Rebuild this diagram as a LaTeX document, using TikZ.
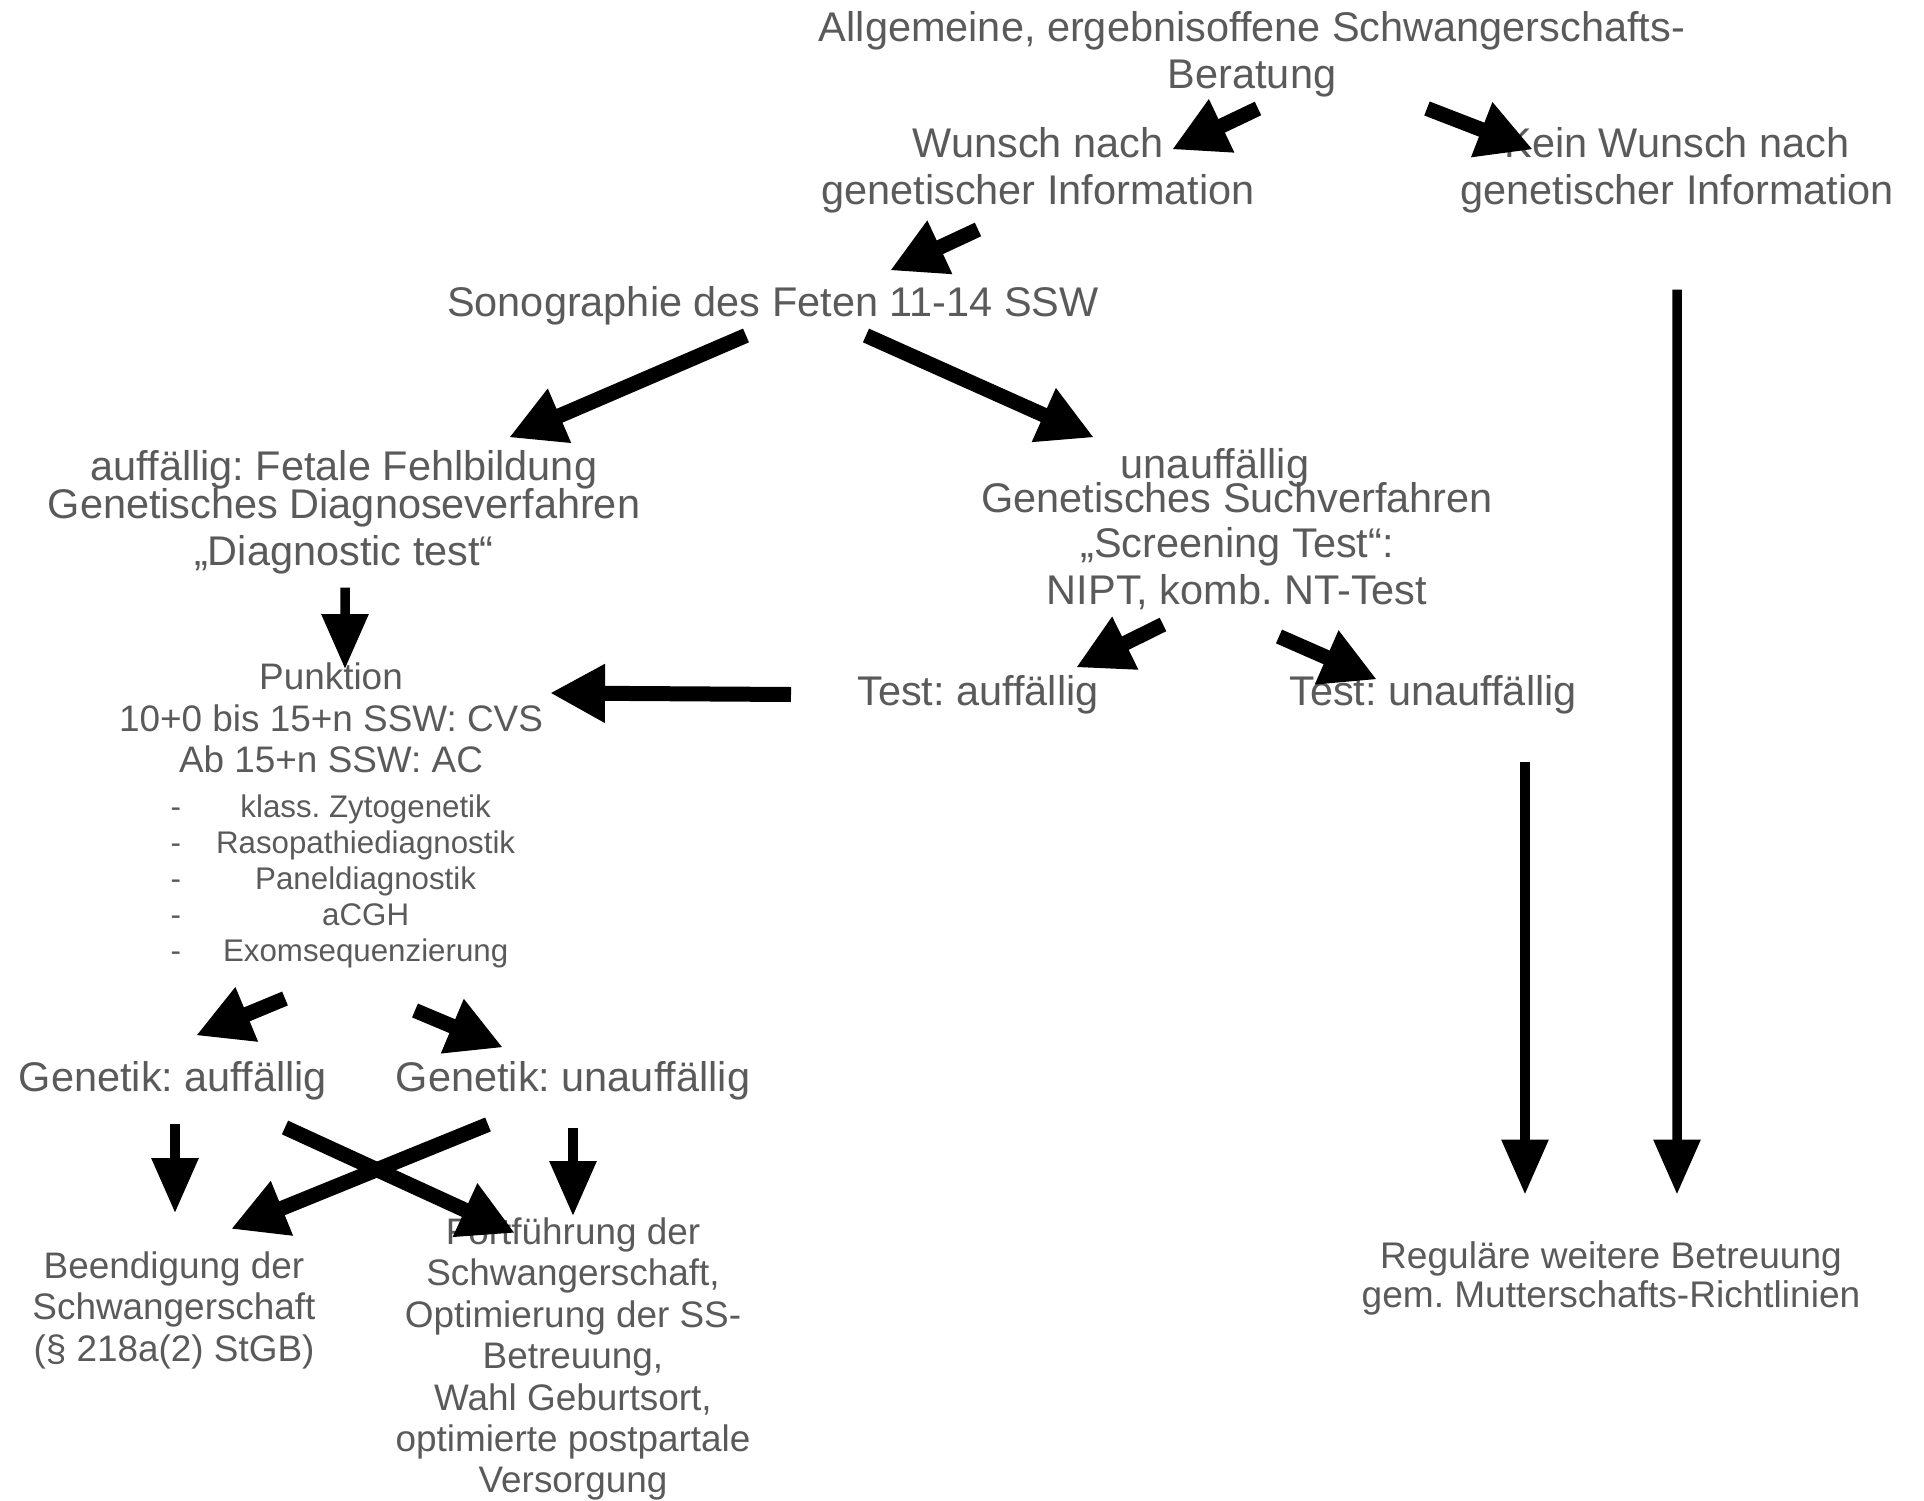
\documentclass[tikz,border=0pt]{standalone}
\usepackage{fontspec}
\setmainfont{Liberation Sans}
\usetikzlibrary{arrows.meta}
\definecolor{txtgray}{HTML}{5A5A5A}
\frenchspacing

\begin{document}
\begin{tikzpicture}[x=1cm,y=1cm,
    txtnode/.style={text=txtgray,align=center,inner sep=0pt,
        font=\fontsize{11.8}{13.5}\selectfont},
    subnode/.style={txtnode,font=\fontsize{10.5}{11.8}\selectfont},
    listnode/.style={txtnode,font=\fontsize{8.9}{10.2}\selectfont},
    thinar/.style={line width=0.095cm,-{Triangle[width=0.45cm,length=0.55cm]}},
    fatar/.style={line width=0.15cm,-{Triangle[width=0.55cm,length=0.55cm]}}]
    \useasboundingbox (0,0) rectangle (19.24,-15.01);

    \node[txtnode] (top) at (12.52,-0.545)
        {Allgemeine, ergebnisoffene Schwangerschafts-\\Beratung};
    \node[txtnode] (wunsch) at (10.38,-1.705)
        {Wunsch nach\\genetischer Information};
    \node[txtnode] (kein) at (16.77,-1.705)
        {Kein Wunsch nach\\genetischer Information};
    \node[txtnode] (sono) at (7.73,-3.055)
        {Sonographie des Feten 11-14 SSW};
    \node[txtnode] (auff) at (3.44,-5.125)
        {auffällig: Fetale Fehlbildung\\[-2.7pt]Genetisches Diagnoseverfahren\\„Diagnostic test“};
    \node[txtnode] (unauff) at (12.37,-5.295)
        {unauffällig\hspace*{0.44cm}\\[-3.9pt]Genetisches Suchverfahren\\[-0.7pt]„Screening Test“:\\NIPT, komb. NT-Test};
    \node[txtnode] (testA) at (9.78,-6.945) {Test: auffällig};
    \node[txtnode] (testU) at (14.33,-6.945) {Test: unauffällig};

    \node[subnode] (punkt) at (3.31,-7.18)
        {Punktion\\10+0 bis 15+n SSW: CVS\\Ab 15+n SSW: AC};
    \node[listnode,anchor=west] (liste) at (1.70,-8.825)
        {\begin{tabular}{@{}l@{\hspace{0.35cm}}c@{}}
         -&klass. Zytogenetik\\
         -&Rasopathiediagnostik\\
         -&Paneldiagnostik\\
         -&aCGH\\
         -&Exomsequenzierung
         \end{tabular}};

    \node[txtnode] (genA) at (1.73,-10.805) {Genetik: auffällig};
    \node[txtnode] (genU) at (5.73,-10.805) {Genetik: unauffällig};
    \node[subnode] (beend) at (1.74,-13.10)
        {Beendigung der\\Schwangerschaft\\(§ 218a(2) StGB)};
    \node[subnode] (fort) at (5.73,-13.59)
        {Fortführung der\\Schwangerschaft,\\Optimierung der SS-\\Betreuung,\\
         Wahl Geburtsort,\\optimierte postpartale\\Versorgung};
    \node[txtnode,font=\fontsize{10.55}{11.3}\selectfont] (regul) at (16.11,-12.785)
        {Reguläre weitere Betreuung\\gem. Mutterschafts-Richtlinien};

    \draw[fatar] ([shift={(0.06,-0.54)}]top.center) -- ([shift={(1.34,0.21)}]wunsch.center);
    \draw[fatar] ([shift={(1.75,-0.54)}]top.center) -- ([shift={(-1.44,0.21)}]kein.center);
    \draw[fatar] ([shift={(-0.60,-0.59)}]wunsch.center) -- ([shift={(1.17,0.35)}]sono.center);
    \draw[fatar] ([shift={(-0.27,-0.30)}]sono.center) -- ([shift={(1.65,0.75)}]auff.center);
    \draw[fatar] ([shift={(0.93,-0.30)}]sono.center) -- ([shift={(-1.43,0.92)}]unauff.center);
    \draw[thinar] ([shift={(0.01,-0.75)}]auff.center) -- ([shift={(0.14,0.49)}]punkt.center);
    \draw[fatar] ([shift={(-0.74,-0.95)}]unauff.center) -- ([shift={(0.98,0.27)}]testA.center);
    \draw[fatar] ([shift={(0.42,-1.07)}]unauff.center) -- ([shift={(-0.56,0.15)}]testU.center);
    \draw[fatar] ([shift={(-1.87,0)}]testA.center) -- ([shift={(2.19,0.25)}]punkt.center);
    \draw[fatar] ([shift={(1.15,-1.16)}]liste.west) -- ([shift={(0.23,0.45)}]genA.center);
    \draw[fatar] ([shift={(2.45,-1.28)}]liste.west) -- ([shift={(-0.70,0.33)}]genU.center);
    \draw[thinar] ([shift={(0.02,-0.43)}]genA.center) -- ([shift={(0.01,0.97)}]beend.center);
    \draw[thinar] ([shift={(0,-0.47)}]genU.center) -- ([shift={(0,1.43)}]fort.center);
    \draw[fatar] ([shift={(1.12,-0.47)}]genA.center) -- ([shift={(-0.58,1.26)}]fort.center);
    \draw[fatar] ([shift={(-0.85,-0.44)}]genU.center) -- ([shift={(0.57,0.81)}]beend.center);
    \draw[thinar] ([shift={(0.92,-0.67)}]testU.center) -- ([shift={(-0.86,0.84)}]regul.center);
    \draw[thinar] ([shift={(0,-1.19)}]kein.center) -- ([shift={(0.66,0.84)}]regul.center);
\end{tikzpicture}
\end{document}
